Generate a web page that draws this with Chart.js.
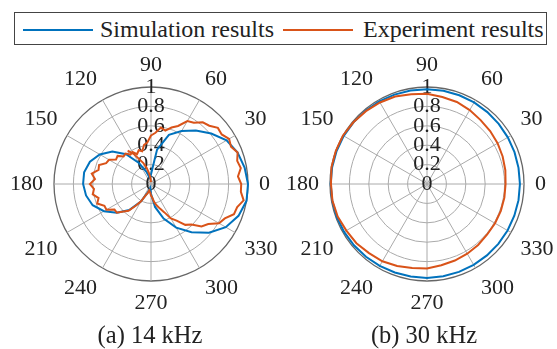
<!DOCTYPE html>
<html>
<head>
<meta charset="utf-8">
<script src="https://cdn.jsdelivr.net/npm/chart.js@4.4.1/dist/chart.umd.min.js"></script>
<style>
  html, body { margin: 0; padding: 0; background: #fff; overflow: hidden; }
  body { width: 557px; height: 349px; position: relative; font-family: "Liberation Serif", "Times New Roman", serif; color: #222; }
  canvas { position: absolute; display: block; }
  #legend { position: absolute; left: 14px; top: 12px; width: 531px; height: 31px; border: 1px solid #444; background: #fff; z-index: 2; }
  .swatch { position: absolute; top: 16px; height: 2px; width: 70px; }
  .ltext { position: absolute; top: 2px; font-size: 24px; line-height: 28px; white-space: nowrap; }
  .caption { position: absolute; top: 321px; width: 200px; text-align: center; font-size: 24.5px; line-height: 28px; }
</style>
</head>
<body>
<canvas id="p14" width="336" height="290" style="left:-17px; top:39px"></canvas>
<canvas id="p30" width="336" height="290" style="left:259px; top:39px"></canvas>
<div id="legend">
  <div class="swatch" style="left:8px; background:#0072BD"></div>
  <div class="ltext" style="left:85px">Simulation results</div>
  <div class="swatch" style="left:268px; background:#D95319"></div>
  <div class="ltext" style="left:348px">Experiment results</div>
</div>
<div class="caption" style="left:50px">(a) 14 kHz</div>
<div class="caption" style="left:324px">(b) 30 kHz</div>

<script>
// radial ticks and labelled angles
const rTicks = [0, 0.2, 0.4, 0.6, 0.8, 1];
const angleTicks = [0, 30, 60, 90, 120, 150, 180, 210, 240, 270, 300, 330];

// 14 kHz, simulation, every 10 deg from 0 deg counter-clockwise
const sim14 = [
  1.00, 0.98, 0.95, 0.90, 0.81, 0.72, 0.63, 0.54, 0.36, 0.10,
  0.06, 0.13, 0.25, 0.40, 0.52, 0.61, 0.67, 0.70, 0.70, 0.68,
  0.64, 0.56, 0.46, 0.35, 0.21, 0.09, 0.04, 0.10, 0.24, 0.38,
  0.52, 0.65, 0.78, 0.89, 0.96, 1.00
];

// 14 kHz, measurement, every 5 deg from 0 deg counter-clockwise
const exp14 = [
  0.93, 0.90, 0.94, 0.92, 0.95, 0.91, 0.93, 0.89, 0.90, 0.85,
  0.83, 0.77, 0.75, 0.66, 0.62, 0.57, 0.59, 0.53, 0.50, 0.43,
  0.41, 0.35, 0.37, 0.34, 0.38, 0.37, 0.41, 0.40, 0.45, 0.44,
  0.50, 0.51, 0.57, 0.56, 0.62, 0.58, 0.63, 0.59, 0.61, 0.56,
  0.59, 0.53, 0.53, 0.46, 0.46, 0.40, 0.36, 0.27, 0.21, 0.13,
  0.10, 0.07, 0.08, 0.09, 0.12, 0.14, 0.19, 0.23, 0.27, 0.32,
  0.41, 0.46, 0.55, 0.59, 0.68, 0.72, 0.81, 0.84, 0.91, 0.92,
  0.97, 0.93
];

// 14 kHz, measured branch running into the origin near the top
const exp14InnerAngles = [90, 95, 100, 105, 110, 115, 120, 125];
const exp14InnerValues = [0.02, 0.06, 0.11, 0.17, 0.23, 0.28, 0.36, 0.42];

// 30 kHz, every 10 deg from 0 deg counter-clockwise
const sim30 = [
  0.958, 0.958, 0.960, 0.962, 0.965, 0.968, 0.971, 0.973, 0.975, 0.976,
  0.978, 0.981, 0.984, 0.987, 0.989, 0.991, 0.992, 0.993, 0.993, 0.992,
  0.990, 0.987, 0.983, 0.979, 0.975, 0.971, 0.969, 0.968, 0.966, 0.964,
  0.962, 0.961, 0.960, 0.959, 0.958, 0.958
];
const exp30 = [
  0.81, 0.82, 0.83, 0.84, 0.85, 0.86, 0.88, 0.90, 0.91, 0.93,
  0.94, 0.96, 0.97, 0.98, 0.99, 1.00, 1.00, 1.00, 0.99, 0.99,
  0.98, 0.96, 0.95, 0.93, 0.92, 0.90, 0.88, 0.87, 0.85, 0.84,
  0.83, 0.82, 0.81, 0.81, 0.81, 0.81
];

const BLUE = '#0072BD';
const ORANGE = '#D95319';
const FONT = '"Liberation Serif", "Times New Roman", serif';
Chart.defaults.font.family = FONT;

// radar labels run clockwise from the top, i.e. 90, 85, 80 ... deg
function radarAngles(step) {
  return Array.from({ length: 360 / step }, (_, i) => (450 - i * step) % 360);
}

function onAngles(angles, values, step) {
  return angles.map(a => (a % step === 0 ? values[a / step] : null));
}

function pick(angles, at, values) {
  return angles.map(a => {
    const k = at.indexOf(a);
    return k < 0 ? null : values[k];
  });
}

// the radial scale skips the label of its first tick, so "0" goes at the pole
const poleLabel = {
  id: 'poleLabel',
  beforeDatasetsDraw(chart) {
    const r = chart.scales.r;
    const ctx = chart.ctx;
    ctx.save();
    ctx.font = '22px ' + FONT;
    ctx.fillStyle = '#222';
    ctx.textAlign = 'center';
    ctx.textBaseline = 'middle';
    ctx.fillText(String(rTicks[0]), r.xCenter, r.yCenter);
    ctx.restore();
  }
};

function polarChart(id, angles, datasets) {
  return new Chart(document.getElementById(id), {
    type: 'radar',
    data: { labels: angles.map(String), datasets },
    options: {
      responsive: false,
      animation: false,
      layout: { padding: { top: 15, bottom: 15, left: 0, right: 0 } },
      plugins: { legend: { display: false }, tooltip: { enabled: false } },
      elements: { point: { radius: 0 }, line: { tension: 0, fill: false } },
      scales: {
        r: {
          min: rTicks[0],
          max: rTicks[rTicks.length - 1],
          ticks: {
            stepSize: 0.2,
            color: '#222',
            font: { size: 22 },
            showLabelBackdrop: false,
            backdropPadding: 0,
            callback: v => String(Number(v.toFixed(1)))
          },
          grid: {
            circular: true,
            color: c => (c.index === rTicks.length - 1 ? '#666' : '#aaa'),
            lineWidth: c => (c.index === rTicks.length - 1 ? 1.3 : 1)
          },
          angleLines: {
            color: '#aaa',
            lineWidth: c => (c.label !== '' ? 1 : 0)
          },
          pointLabels: {
            color: '#222',
            padding: 0,
            font: { size: 22, lineHeight: 1 },
            callback: label => (angleTicks.includes(Number(label)) ? label : '')
          }
        }
      }
    },
    plugins: [poleLabel]
  });
}

const a14 = radarAngles(5);
polarChart('p14', a14, [
  { label: 'Experiment results', data: onAngles(a14, exp14, 5), borderColor: ORANGE, borderWidth: 2, order: 0 },
  { label: 'Experiment results', data: pick(a14, exp14InnerAngles, exp14InnerValues), borderColor: ORANGE, borderWidth: 2, order: 0 },
  { label: 'Simulation results', data: onAngles(a14, sim14, 10), spanGaps: true, borderColor: BLUE, borderWidth: 2, order: 1 }
]);

const a30 = radarAngles(10);
polarChart('p30', a30, [
  { label: 'Experiment results', data: onAngles(a30, exp30, 10), borderColor: ORANGE, borderWidth: 2, order: 0 },
  { label: 'Simulation results', data: onAngles(a30, sim30, 10), borderColor: BLUE, borderWidth: 2, order: 1 }
]);
</script>
</body>
</html>
